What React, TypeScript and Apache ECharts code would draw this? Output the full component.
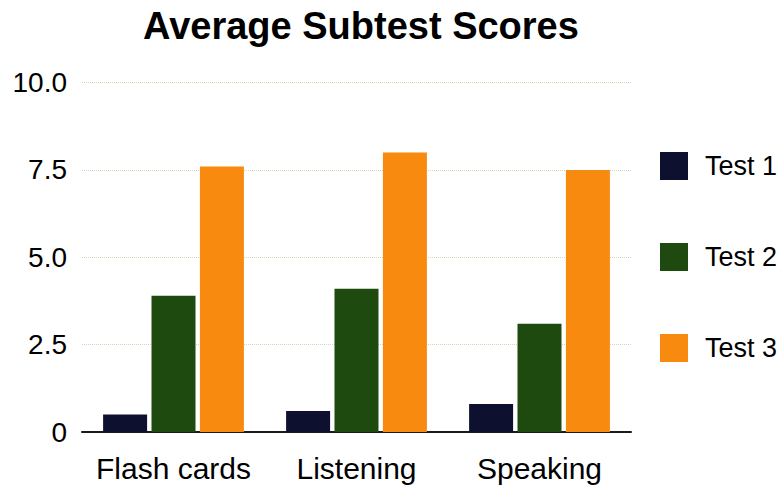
import React, { useEffect, useRef } from "react";
import * as echarts from "echarts";

const categories = ["Flash cards", "Listening", "Speaking"];
const seriesNames = ["Test 1", "Test 2", "Test 3"];
const test1 = [0.5, 0.6, 0.8];
const test2 = [3.9, 4.1, 3.1];
const test3 = [7.6, 8.0, 7.5];
const colors = ["#0e1030", "#1f4a0f", "#f88a10"];

export default function App() {
  const ref = useRef<HTMLDivElement>(null);
  useEffect(() => {
    if (!ref.current) return;
    const chart = echarts.init(ref.current, null, { renderer: "svg" });
    const font = "Liberation Sans, Arial, Helvetica, sans-serif";
    const values = [test1, test2, test3];
    chart.setOption({
      animation: false,
      backgroundColor: "#ffffff",
      title: {
        text: "Average Subtest Scores",
        left: 356,
        top: 2,
        textAlign: "center",
        textStyle: { fontFamily: font, fontSize: 38, fontWeight: "bold", color: "#000" },
      },
      legend: {
        orient: "vertical",
        left: 655,
        top: 147,
        itemWidth: 28,
        itemHeight: 28,
        itemGap: 63,
        icon: "rect",
        data: seriesNames,
        textStyle: { fontFamily: font, fontSize: 27, color: "#000", padding: [0, 0, 0, 12] },
      },
      grid: { left: 82, right: 153, top: 82.5, bottom: 55, containLabel: false },
      xAxis: {
        type: "category",
        data: categories,
        axisTick: { show: false },
        axisLine: { lineStyle: { color: "#1a1a1a", width: 2 } },
        axisLabel: { fontFamily: font, fontSize: 30, color: "#000", margin: 21, interval: 0 },
      },
      yAxis: {
        type: "value",
        min: 0,
        max: 10,
        interval: 2.5,
        axisLine: { show: false },
        axisTick: { show: false },
        splitLine: { lineStyle: { color: "#d4d8b4", type: "dotted", width: 1 } },
        axisLabel: {
          fontFamily: font,
          fontSize: 28,
          color: "#000",
          margin: 15,
          formatter: (v: number) => (v === 0 ? "0" : v.toFixed(1)),
        },
      },
      series: seriesNames.map((name, i) => ({
        name,
        type: "bar",
        data: values[i],
        barWidth: 44,
        barGap: "10%",
        itemStyle: { color: colors[i] },
      })),
    });
    return () => chart.dispose();
  }, []);
  return (
    <div
      ref={ref}
      style={{ position: "fixed", left: 0, top: 0, width: 784, height: 487 }}
    />
  );
}
